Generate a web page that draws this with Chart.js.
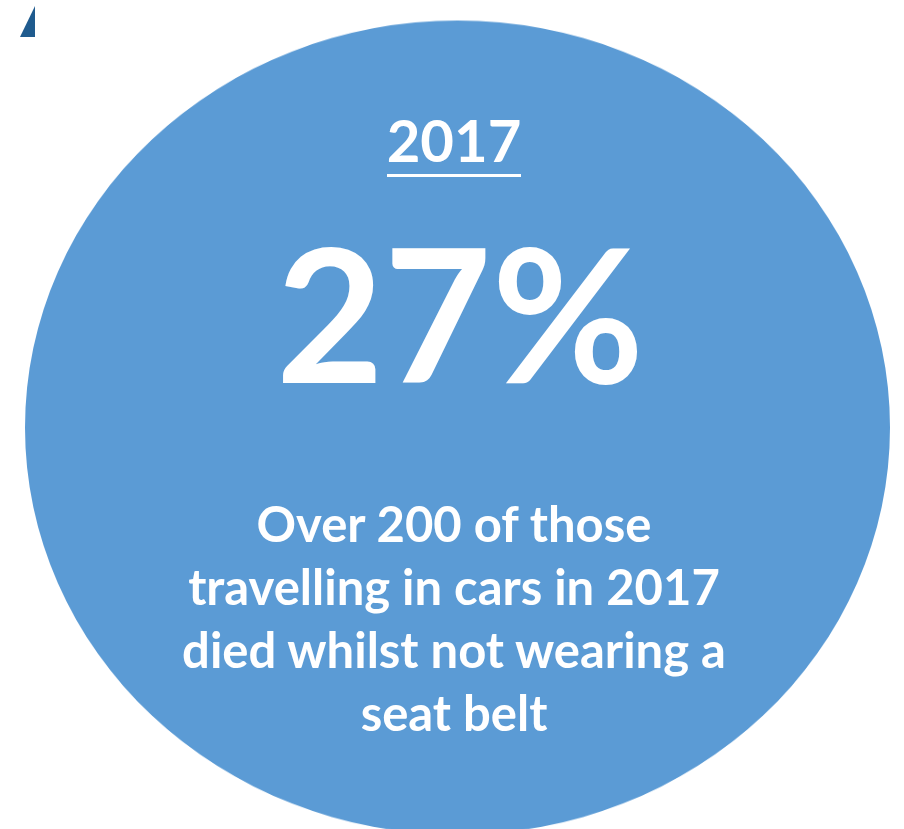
<!DOCTYPE html>
<html>
<head>
<meta charset="utf-8">
<script src="https://cdn.jsdelivr.net/npm/chart.js@4"></script>
<style>
  html, body { margin: 0; padding: 0; background: #fff; }
  body { width: 904px; height: 829px; position: relative; overflow: hidden; font-family: Lato, "Open Sans", sans-serif; }
  #wrap { position: absolute; left: 24.5px; top: -5.5px; width: 865px; height: 865px; transform: scaleY(0.941); transform-origin: 50% 50%; }
  .txt { position: absolute; left: 0; width: 904px; text-align: center; color: #fff; font-weight: 700; }
  #year { top: 104px; left: 2px; font-size: 58px; line-height: 72px; }
  #year span { border-bottom: 3px solid #fff; }
  #share { top: 196px; left: 8px; font-size: 186px; line-height: 230px; }
  #note { top: 492px; left: 2px; font-size: 49px; line-height: 63px; }
</style>
</head>
<body>
<div id="wrap"><canvas id="pie" width="865" height="865"></canvas></div>
<div class="txt" id="year"><span></span></div>
<div class="txt" id="share"></div>
<div class="txt" id="note"></div>
<svg style="position:absolute;left:0;top:0" width="60" height="50">
  <polygon points="20,37 35,37 35,6" fill="#1F5B8E"/>
</svg>
<script>
// data
const sliceLabels = ["Car occupants killed"];
const sliceValues = [100];
const sliceColors = ["#5B9BD5"];
const yearLabel = "2017";
const shareValue = 27;
const noteLines = ["Over 200 of those", "travelling in cars in 2017", "died whilst not wearing a", "seat belt"];

document.querySelector("#year span").textContent = yearLabel;
document.querySelector("#share").textContent = shareValue + "%";
document.querySelector("#note").innerHTML = noteLines.join("<br>");

const chartCanvas = document.querySelector("#pie");

new Chart(chartCanvas, {
  type: "pie",
  data: {
    labels: sliceLabels,
    datasets: [{
      data: sliceValues,
      backgroundColor: sliceColors,
      borderWidth: 0
    }]
  },
  options: {
    responsive: false,
    animation: false,
    layout: { padding: 0 },
    plugins: {
      legend: { display: false },
      tooltip: { enabled: false }
    }
  }
});
</script>
</body>
</html>
